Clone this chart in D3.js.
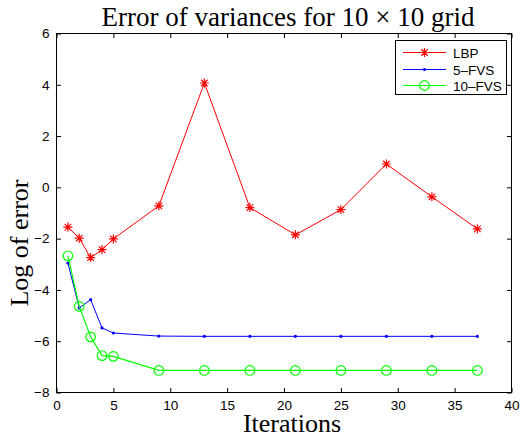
<!DOCTYPE html>
<html>
<head>
<meta charset="utf-8">
<script src="https://cdn.jsdelivr.net/npm/d3@7"></script>
<style>
  html, body { margin: 0; padding: 0; background: #fff; }
  svg { display: block; }
</style>
</head>
<body>
<svg id="chart" width="520" height="438"></svg>
<script>
// Iteration counts at which the error was measured
const iterations = [1, 2, 3, 4, 5, 9, 13, 17, 21, 25, 29, 33, 37];

// Log of variance error for each method
const lbp    = [-1.55, -1.98, -2.74, -2.43, -2.01, -0.72, 4.07, -0.79, -1.85, -0.87, 0.91, -0.37, -1.62];
const fvs5   = [-2.95, -4.70, -4.38, -5.48, -5.68, -5.80, -5.81, -5.81, -5.81, -5.81, -5.81, -5.81, -5.81];
const fvs10  = [-2.67, -4.64, -5.83, -6.56, -6.59, -7.14, -7.14, -7.14, -7.14, -7.14, -7.14, -7.14, -7.14];

const seriesNames = ["LBP", "5\u2013FVS", "10\u2013FVS"];
const xTicks = [0, 5, 10, 15, 20, 25, 30, 35, 40];
const yTicks = [-8, -6, -4, -2, 0, 2, 4, 6];

const svg = d3.select("#chart");
const L = 56.5, R = 511.5, T = 33.5, B = 392.5;

const x = d3.scaleLinear().domain([0, 40]).range([L, R]);
const y = d3.scaleLinear().domain([-8, 6]).range([B, T]);

const sansFont = "'Liberation Sans', Arial, Helvetica, sans-serif";
const serifFont = "'Liberation Serif', 'Times New Roman', serif";
const fmt = d => (d < 0 ? "\u2212" + Math.abs(d) : String(d));

// Axes: bottom/left carry labels, top/right mirror the ticks
const tickLen = 4.5;
const axB = d3.axisBottom(x).tickValues(xTicks).tickSizeInner(-tickLen).tickSizeOuter(0).tickPadding(8).tickFormat(fmt);
const axT = d3.axisTop(x).tickValues(xTicks).tickSizeInner(-tickLen).tickSizeOuter(0).tickFormat("");
const axL = d3.axisLeft(y).tickValues(yTicks).tickSizeInner(-tickLen).tickSizeOuter(0).tickPadding(7).tickFormat(fmt);
const axR = d3.axisRight(y).tickValues(yTicks).tickSizeInner(-tickLen).tickSizeOuter(0).tickFormat("");

function styleAxis(g) {
  g.select(".domain").remove();
  g.selectAll(".tick line").attr("stroke", "#000").attr("stroke-width", 1);
  g.selectAll("text").attr("font-family", sansFont).attr("font-size", 13.5).attr("fill", "#000");
}
svg.append("g").attr("transform", `translate(0,${B})`).call(axB).call(styleAxis);
svg.append("g").attr("transform", `translate(0,${T})`).call(axT).call(styleAxis);
svg.append("g").attr("transform", `translate(${L},0)`).call(axL).call(styleAxis);
svg.append("g").attr("transform", `translate(${R},0)`).call(axR).call(styleAxis);

// Plot frame
svg.append("rect")
  .attr("x", L).attr("y", T).attr("width", R - L).attr("height", B - T)
  .attr("fill", "none").attr("stroke", "#000").attr("stroke-width", 1);

// Marker painters
function asterisk(g, cx, cy, color, s) {
  const d = s * 0.72;
  const p = `M${cx - s},${cy}L${cx + s},${cy}M${cx},${cy - s}L${cx},${cy + s}` +
            `M${cx - d},${cy - d}L${cx + d},${cy + d}M${cx - d},${cy + d}L${cx + d},${cy - d}`;
  g.append("path").attr("d", p).attr("stroke", color).attr("stroke-width", 1.2).attr("fill", "none");
}
function dot(g, cx, cy, color) {
  g.append("circle").attr("cx", cx).attr("cy", cy).attr("r", 1.6).attr("fill", color);
}
function ring(g, cx, cy, color) {
  g.append("circle").attr("cx", cx).attr("cy", cy).attr("r", 4.8)
    .attr("fill", "none").attr("stroke", color).attr("stroke-width", 1.2);
}

const series = [
  { name: seriesNames[0], values: lbp,   color: "#ff0000", width: 1,   marker: (g, a, b) => asterisk(g, a, b, "#ff0000", 4.5) },
  { name: seriesNames[1], values: fvs5,  color: "#0000ff", width: 1,   marker: (g, a, b) => dot(g, a, b, "#0000ff") },
  { name: seriesNames[2], values: fvs10, color: "#00ff00", width: 1.2, marker: (g, a, b) => ring(g, a, b, "#00ff00") }
];

const line = d3.line().x(d => x(d[0])).y(d => y(d[1]));
const plot = svg.append("g");
series.forEach(s => {
  const pts = iterations.map((it, i) => [it, s.values[i]]);
  plot.append("path").datum(pts).attr("d", line)
    .attr("fill", "none").attr("stroke", s.color).attr("stroke-width", s.width);
  const mg = plot.append("g");
  pts.forEach(p => s.marker(mg, x(p[0]), y(p[1])));
});

// Legend
const lg = svg.append("g");
lg.append("rect").attr("x", 395.5).attr("y", 40.5).attr("width", 111).attr("height", 54)
  .attr("fill", "#fff").attr("stroke", "#000").attr("stroke-width", 1);
const rowY = [52.5, 69.5, 85.5];
series.forEach((s, i) => {
  const yy = rowY[i];
  lg.append("line").attr("x1", 403).attr("x2", 446).attr("y1", yy).attr("y2", yy)
    .attr("stroke", s.color).attr("stroke-width", s.width);
  s.marker(lg, 424.5, yy);
  lg.append("text").attr("x", 453).attr("y", yy + 5)
    .attr("font-family", sansFont).attr("font-size", 13.5).attr("fill", "#000").text(s.name);
});

// Titles
svg.append("text").attr("x", 288).attr("y", 26).attr("text-anchor", "middle")
  .attr("font-family", serifFont).attr("font-size", 27).attr("fill", "#000")
  .text("Error of variances for 10 \u00d7 10 grid");
svg.append("text").attr("x", 292).attr("y", 432).attr("text-anchor", "middle")
  .attr("font-family", serifFont).attr("font-size", 26).attr("fill", "#000")
  .text("Iterations");
svg.append("text").attr("transform", "translate(28,243) rotate(-90)").attr("text-anchor", "middle")
  .attr("font-family", serifFont).attr("font-size", 26).attr("fill", "#000")
  .text("Log of error");
</script>
</body>
</html>
